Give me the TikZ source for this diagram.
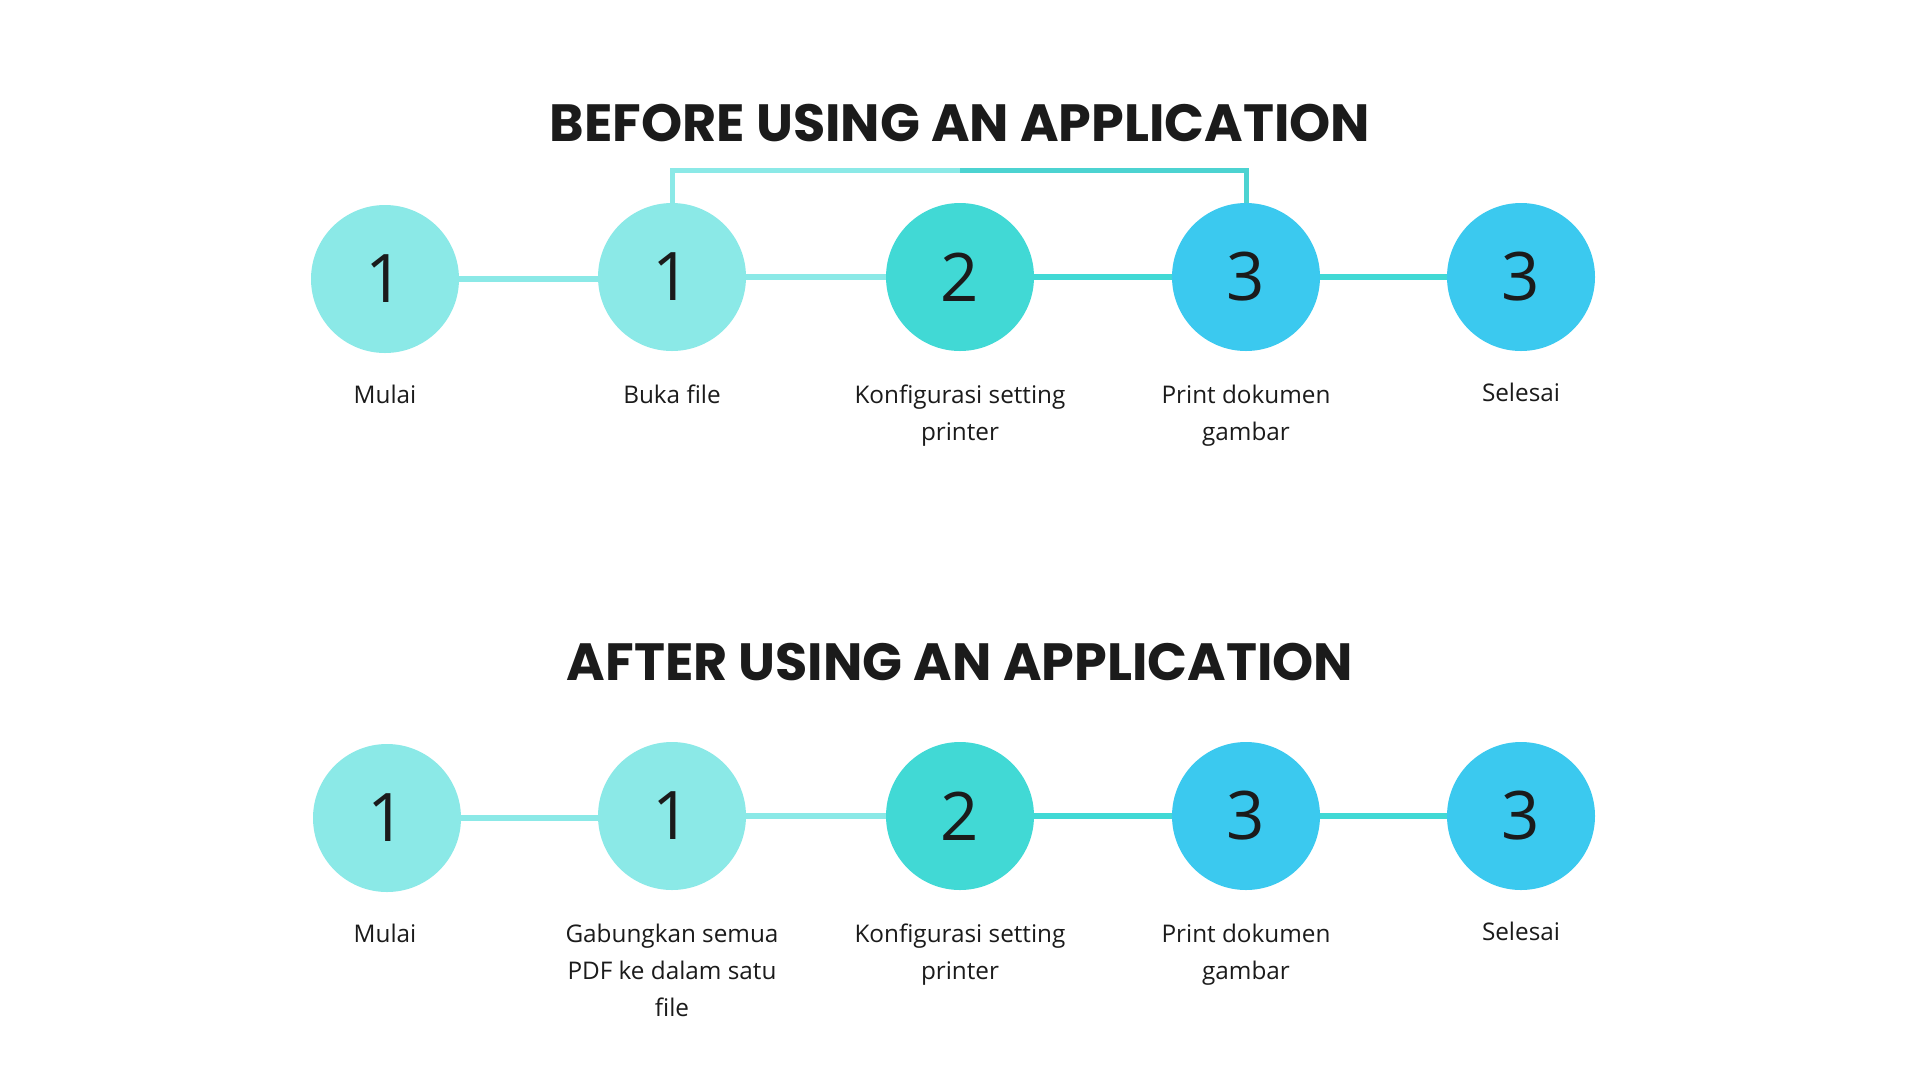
\documentclass[tikz,border=0pt]{standalone}
\usepackage{fontspec}
\usetikzlibrary{backgrounds}
\setmainfont{Open Sans}
\newfontfamily\titlefont{Poppins}
\definecolor{lightcyan}{HTML}{8BE9E7}
\definecolor{turq}{HTML}{41D9D5}
\definecolor{bracketteal}{HTML}{4CD3D1}
\definecolor{skyblue}{HTML}{3BC9EF}
\definecolor{inkdark}{HTML}{1B1B1B}
\begin{document}
\begin{tikzpicture}[x=1pt,y=-1pt,
  stepcircle/.style={circle,minimum size=148pt,inner sep=0pt,
    font=\fontsize{67}{67}\selectfont,text=inkdark},
  steplabel/.style={align=center,font=\fontsize{24.3}{37}\selectfont,
    text=inkdark,anchor=north},
  heading/.style={font=\titlefont\bfseries\fontsize{52.4}{52.4}\selectfont,text=inkdark},
  conn/.style={line width=6pt},
  bracket/.style={line width=5pt}]
\path[use as bounding box] (0,0) rectangle (1920,1080);
\begin{scope}[on background layer]
\fill[white] (0,0) rectangle (1920,1080);
\end{scope}

% ---- before ----
\node[heading] (t1) at (960,123) {BEFORE USING AN APPLICATION};

\node[stepcircle,fill=lightcyan] (a1) at (385,279) {1};
\node[stepcircle,fill=lightcyan] (a2) at (672,277) {1};
\node[stepcircle,fill=turq]      (a3) at (960,277) {2};
\node[stepcircle,fill=skyblue]   (a4) at (1246,277) {3};
\node[stepcircle,fill=skyblue]   (a5) at (1521,277) {3};

\begin{scope}[on background layer]
\draw[conn,lightcyan] (a1.center) -- (a1.center -| a2.center);
\draw[conn,lightcyan] (a2.center) -- (a3.center);
\draw[conn,turq]      (a3.center) -- (a4.center);
\draw[conn,turq]      (a4.center) -- (a5.center);
\end{scope}

\coordinate (bl) at (672,170);
\coordinate (bm) at (960,170);
\coordinate (br) at (1246,170);
\draw[bracket,lightcyan] (a2.north) -- (bl) -- (bm);
\draw[bracket,bracketteal] (bm) -- (br) -- (a4.north);

\node[steplabel] (la1) at (385,381) {Mulai};
\node[steplabel] (la2) at (672,381) {Buka file};
\node[steplabel] (la3) at (960,381) {Konfigurasi setting\\printer};
\node[steplabel] (la4) at (1246,381) {Print dokumen\\gambar};
\node[steplabel] (la5) at (1521,379) {Selesai};

% ---- after ----
\node[heading] (t2) at (960,662) {AFTER USING AN APPLICATION};

\node[stepcircle,fill=lightcyan] (b1) at (387,818) {1};
\node[stepcircle,fill=lightcyan] (b2) at (672,816) {1};
\node[stepcircle,fill=turq]      (b3) at (960,816) {2};
\node[stepcircle,fill=skyblue]   (b4) at (1246,816) {3};
\node[stepcircle,fill=skyblue]   (b5) at (1521,816) {3};

\begin{scope}[on background layer]
\draw[conn,lightcyan] (b1.center) -- (b1.center -| b2.center);
\draw[conn,lightcyan] (b2.center) -- (b3.center);
\draw[conn,turq]      (b3.center) -- (b4.center);
\draw[conn,turq]      (b4.center) -- (b5.center);
\end{scope}

\node[steplabel] (lb1) at (385,920) {Mulai};
\node[steplabel] (lb2) at (672,920) {Gabungkan semua\\PDF ke dalam satu\\file};
\node[steplabel] (lb3) at (960,920) {Konfigurasi setting\\printer};
\node[steplabel] (lb4) at (1246,920) {Print dokumen\\gambar};
\node[steplabel] (lb5) at (1521,918) {Selesai};
\end{tikzpicture}
\end{document}
